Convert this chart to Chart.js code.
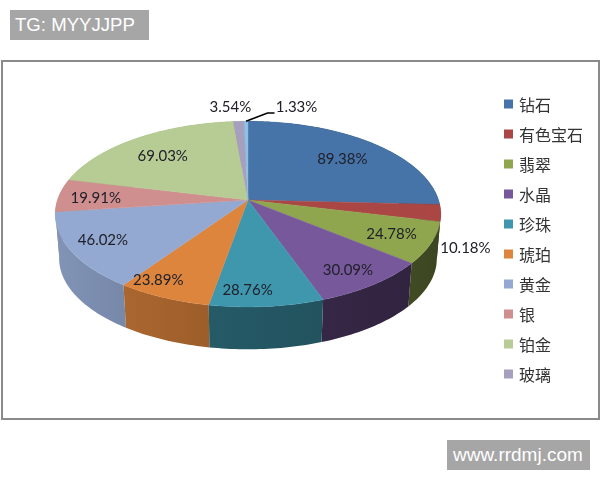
<!DOCTYPE html>
<html>
<head>
<meta charset="utf-8">
<style>
    body { margin: 0; background: #fff; }
    #page { position: relative; width: 600px; height: 480px; overflow: hidden; }
    #frame { position: absolute; left: 1px; top: 60px; width: 595px; height: 356px; border: 2px solid #8a8a8a; }
    canvas { position: absolute; left: 0; top: 0; }
    .tag { position: absolute; background: #a6a6a6; color: #fff; font-family: "Liberation Sans", sans-serif; white-space: nowrap; }
    #tagTop { left: 10px; top: 10px; width: 134px; height: 30px; padding-left: 5px; font-size: 18.6px; line-height: 30px; }
    #tagBottom { left: 447px; top: 440px; width: 137px; height: 30px; padding-left: 6px; font-size: 19px; line-height: 30px; }
</style>
</head>
<body>
<div id="page">
    <div id="frame"></div>
    <canvas id="chart" width="600" height="480"></canvas>
    <div class="tag" id="tagTop">TG: MYYJJPP</div>
    <div class="tag" id="tagBottom">www.rrdmj.com</div>
</div>
<script src="https://cdn.jsdelivr.net/npm/chart.js@4/dist/chart.umd.min.js"></script>
<script>
const categories = ['钻石', '有色宝石', '翡翠', '水晶', '珍珠', '琥珀', '黄金', '银', '铂金', '玻璃', '']
const values = [89.38, 10.18, 24.78, 30.09, 28.76, 23.89, 46.02, 19.91, 69.03, 3.54, 1.33]
const labels = ['89.38%', '10.18%', '24.78%', '30.09%', '28.76%', '23.89%', '46.02%', '19.91%', '69.03%', '3.54%', '1.33%']
const colors = ['#4674a8', '#aa4644', '#8fa64f', '#76589b', '#3f97ae', '#dd853d', '#94a9d1', '#cf8f8e', '#b7cc94', '#a69fbe', '#8fc0e4']

// how dark each slice's outer wall is
const wallShade = [0.42, 0.42, 0.43, 0.43, 0.57, 0.74, 0.84, 0.85, 0.85, 0.85, 0.85]

// label placement: radius factor on the top face, then a small nudge in px
const labelRadius = [0.72, 1.13, 0.8, 0.8, 0.8, 0.8, 0.8, 0.8, 0.8, 1.3, 1.3]
const labelNudge = [[2, 1], [-1, 33], [-1, 0], [2, 4], [-15, 8], [-24, 5], [-6, 0], [-1, 2], [6, 6], [-6, 5], [51, 6]]

// fake 3D view of the pie
const apexY = 200
const flatten = 0.476
const perspective = 0.152
const depth = 44.5
const bottomScale = 0.98

const darken = (hex, f) => {
    const n = parseInt(hex.slice(1), 16)
    return `rgb(${Math.round((n >> 16) * f)},${Math.round(((n >> 8) & 255) * f)},${Math.round((n & 255) * f)})`
}

const pie3d = {
    id: 'pie3d',
    beforeDatasetsDraw(chart) {
        const ctx = chart.ctx
        const arcs = chart.getDatasetMeta(0).data
        const cx = arcs[0].x
        const R = arcs[0].outerRadius

        const project = (angle, r) => {
            const ux = Math.cos(angle) * r, uy = Math.sin(angle) * r
            const w = 1 - perspective * uy
            return { x: ux / w * R, y: uy / w * R * flatten }
        }
        const top = (angle, r) => {
            const p = project(angle, r)
            return { x: cx + p.x, y: apexY + p.y }
        }
        const bottom = (angle) => {
            const p = project(angle, 1)
            return { x: cx + p.x * bottomScale, y: apexY + depth + p.y * bottomScale }
        }
        const midOf = (arc) => (arc.startAngle + arc.endAngle) / 2

        // outer wall, one polygon per slice, back slices first
        const order = arcs.map((arc, i) => i).sort((a, b) => Math.sin(midOf(arcs[a])) - Math.sin(midOf(arcs[b])))
        order.forEach(i => {
            const arc = arcs[i]
            const steps = Math.max(2, Math.ceil((arc.endAngle - arc.startAngle) / 0.02))
            const angleAt = (s) => arc.startAngle + (arc.endAngle - arc.startAngle) * s / steps
            const from = top(arc.startAngle, 1).x, to = top(arc.endAngle, 1).x
            const grad = ctx.createLinearGradient(from, 0, to, 0)
            grad.addColorStop(0, darken(colors[i], wallShade[i] * 0.96))
            grad.addColorStop(1, darken(colors[i], wallShade[i] * 1.04))
            ctx.beginPath()
            for (let s = 0; s <= steps; s++) {
                const p = top(angleAt(s), 1)
                ctx.lineTo(p.x, p.y)
            }
            for (let s = steps; s >= 0; s--) {
                const q = bottom(angleAt(s))
                ctx.lineTo(q.x, q.y)
            }
            ctx.closePath()
            ctx.fillStyle = grad
            ctx.fill()
        })

        // top face
        arcs.forEach((arc, i) => {
            ctx.beginPath()
            ctx.moveTo(cx, apexY)
            const steps = Math.max(2, Math.ceil((arc.endAngle - arc.startAngle) / 0.01))
            for (let s = 0; s <= steps; s++) {
                const p = top(arc.startAngle + (arc.endAngle - arc.startAngle) * s / steps, 1)
                ctx.lineTo(p.x, p.y)
            }
            ctx.closePath()
            ctx.fillStyle = colors[i]
            ctx.strokeStyle = colors[i]
            ctx.lineWidth = 0.4
            ctx.fill()
            ctx.stroke()
        })

        // value labels
        ctx.font = '15px Lato, "Open Sans", sans-serif'
        ctx.textAlign = 'center'
        ctx.textBaseline = 'middle'
        ctx.fillStyle = '#20202a'
        const spots = arcs.map((arc, i) => {
            const p = top(midOf(arc), labelRadius[i])
            return { x: p.x + labelNudge[i][0], y: p.y + labelNudge[i][1] }
        })
        spots.forEach((p, i) => ctx.fillText(labels[i], p.x, p.y))

        // leader line of the last, thin slice
        const last = arcs[arcs.length - 1]
        const rim = top(midOf(last), 1)
        const end = spots[spots.length - 1]
        ctx.beginPath()
        ctx.moveTo(rim.x, rim.y)
        ctx.lineTo(end.x - 29, end.y + 5.5)
        ctx.lineTo(end.x - 22, end.y + 5.5)
        ctx.strokeStyle = '#000'
        ctx.lineWidth = 1.6
        ctx.stroke()

        return false
    },
    // legend squares sit a little closer to their text than Chart.js puts them
    afterDraw(chart) {
        const ctx = chart.ctx
        chart.legend.legendHitBoxes.forEach((box, i) => {
            ctx.fillStyle = colors[i]
            ctx.fillRect(box.left + 2, box.top + box.height / 2 - 5, 9, 9)
        })
    }
}

new Chart(document.getElementById('chart'), {
    type: 'pie',
    data: {
        labels: categories,
        datasets: [{ data: values, backgroundColor: colors, borderWidth: 0 }]
    },
    plugins: [pie3d],
    options: {
        responsive: false,
        animation: false,
        layout: { padding: { left: 8, right: 7, top: 49, bottom: 50 } },
        plugins: {
            tooltip: { enabled: false },
            legend: {
                position: 'right',
                labels: {
                    boxWidth: 9,
                    boxHeight: 0,
                    padding: 14,
                    color: '#333',
                    font: { family: '"Noto Sans CJK SC"', size: 16 },
                    filter: (item) => item.text !== ''
                }
            }
        }
    }
})
</script>
</body>
</html>
